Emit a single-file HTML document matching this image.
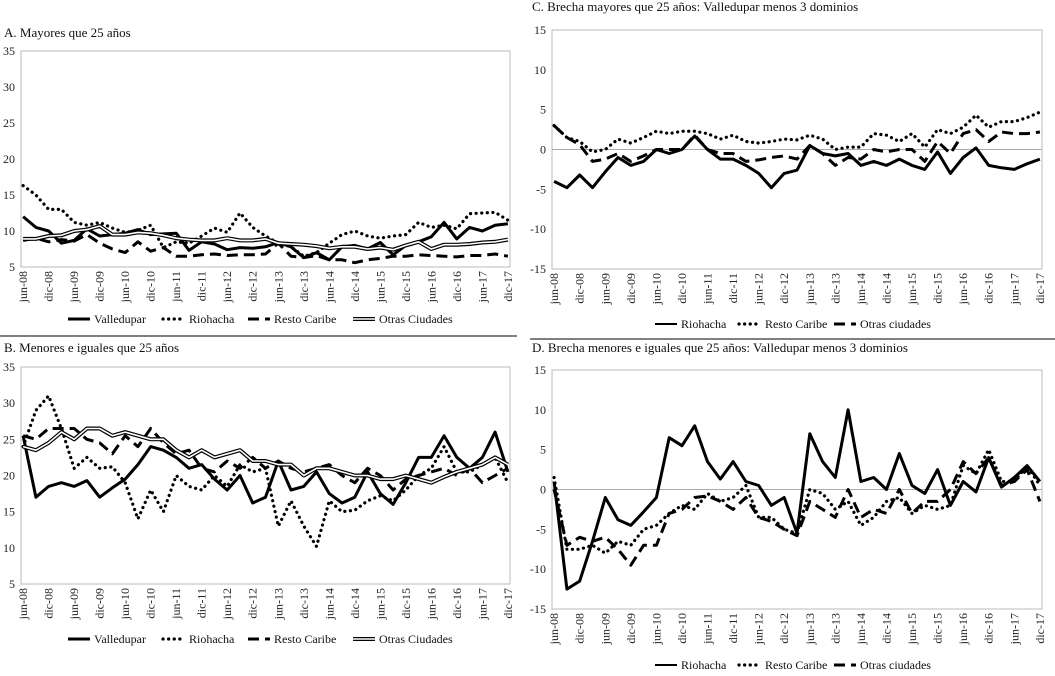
<!DOCTYPE html>
<html><head><meta charset="utf-8">
<style>
html,body{margin:0;padding:0;background:#fff;}
svg{display:block;font-family:"Liberation Serif",serif;}
</style></head>
<body>
<svg id="chart" width="1055" height="676" viewBox="0 0 1055 676" xmlns="http://www.w3.org/2000/svg"></svg>
<script>
const xLabels=["jun-08","dic-08","jun-09","dic-09","jun-10","dic-10","jun-11","dic-11","jun-12","dic-12","jun-13","dic-13","jun-14","dic-14","jun-15","dic-15","jun-16","dic-16","jun-17","dic-17"];
const ticksAB=[5,10,15,20,25,30,35];
const ticksCD=[-15,-10,-5,0,5,10,15];
// quarterly readings, jun-08 .. dic-17 (39 points)
const aValledupar=[12,10.5,10,8.3,8.7,10.3,9.3,9.5,9.7,10.2,9.5,9.6,9.7,7.3,8.5,8.2,7.4,7.7,7.6,7.8,8.4,7.8,6.3,7,6,7.8,8,7.5,8.4,6.7,8,8.5,9.2,11.2,8.9,10.5,10,10.8,11];
const aRiohacha=[16.3,15,13,13,11.2,10.8,11.2,10.4,9.8,10.1,10.8,7.7,8.5,8.3,9.3,10.4,9.8,12.5,10.5,9.3,8.3,7.8,6.5,7,8.3,9.5,10,9.3,9,9.3,9.5,11.2,10.5,10.8,10.3,12.4,12.5,12.6,11.5];
const aResto=[8.7,9,8.5,8.8,8.6,9.5,8.3,7.5,7,8.5,7.2,7.7,6.5,6.5,6.7,6.8,6.6,6.7,6.7,6.8,8.3,6.5,6.3,6.6,6,6,5.6,6,6.2,6.5,6.5,6.7,6.6,6.5,6.4,6.6,6.6,6.8,6.5];
const aOtras=[8.9,8.9,9.3,9.4,10,10.2,10.7,9.5,9.5,9.8,9.7,9.4,9,8.8,8.7,8.7,9,8.7,8.7,8.9,8.3,8.2,8.1,7.9,7.6,7.8,7.8,7.5,7.7,7.4,8,8.5,7.5,8.1,8.1,8.2,8.4,8.5,8.8];
const bValledupar=[25.5,17,18.5,19,18.5,19.3,17,18.3,19.5,21.5,24,23.5,22.5,21,21.5,19.5,18,20,16.2,17,22,18,18.5,20.5,17.5,16.2,17,20.5,17.5,16,19,22.5,22.5,25.5,22.5,21,22.5,26,20.5];
const bRiohacha=[24,29,31,26.5,21,22.5,21,21.2,19,14,18,15,20,18.5,18,20,18.5,21.5,20.5,21,13,16.5,13,10.2,16.5,15,15.2,16.5,17.2,16.5,18,20,21,24,20.5,20.5,21.5,22.5,19];
const bResto=[25.5,25,26.5,26.5,26.5,25,24.5,23,25.5,24,26.5,24.5,23,23.5,21,20.5,22,21,22.5,21,22,21,20.5,21,21.5,20,19,21,20,18,19.5,20,20.5,21,20,21,19,20,21];
const bOtras=[24,23.5,24.5,26,25,26.5,26.5,25.5,26,25.5,25,25,23.5,22.5,23.5,22.5,23,23.5,22,22,21.5,21.5,20,21,21,20.5,20,20,19.5,19.5,20,19.5,19,19.8,20.5,21,21.5,22.5,21.5];
const cRiohacha=[-4,-4.8,-3.2,-4.8,-2.8,-1,-2,-1.5,0,-0.5,0,1.7,0,-1.2,-1.2,-2,-3,-4.8,-3,-2.6,0.5,-0.5,-0.8,-0.5,-2,-1.5,-2,-1.2,-2,-2.5,-0.3,-3,-1,0.2,-2,-2.3,-2.5,-1.8,-1.2];
const cResto=[3,1.5,1,-0.3,0,1.3,0.8,1.5,2.3,2,2.3,2.3,2,1.3,1.8,1,0.8,1,1.3,1.2,1.8,1.3,0,0.3,0.3,2,1.8,1,2,0.3,2.5,2,2.8,4.3,2.8,3.5,3.5,4,4.7];
const cOtras=[3,1.5,0.6,-1.5,-1.2,-0.5,-1.5,-0.8,0,0,0,1.8,0,-0.5,-0.5,-1.5,-1.3,-1,-0.8,-1.2,0.5,-0.5,-2,-1,-1.2,0,-0.3,0,0,-1.5,1,-0.5,2,2.5,1,2.2,2,2,2.2];
const dRiohacha=[1,-12.5,-11.5,-6.5,-1,-3.8,-4.5,-2.8,-1,6.5,5.5,8,3.5,1.3,3.5,1,0.5,-2,-1,-5.5,7,3.5,1.5,10,1,1.5,0,4.5,0.5,-0.5,2.5,-2,1,-0.3,4,0.3,1.5,3,1];
const dResto=[1.5,-7.5,-7.5,-7,-8,-6.5,-7,-5,-4.5,-3,-2,-2.5,-0.5,-1.5,-1,0.5,-3.5,-3.5,-5,-5.5,0,-0.5,-2.5,-1.5,-4.5,-3.5,-1.5,-1,-3,-2,-2.5,-2,3,2,5,1,1,3,0.5];
const dOtras=[0,-7,-6,-6.5,-6,-7.5,-9.5,-7,-7,-3,-2.5,-1,-0.8,-1.5,-2.5,-1,-3.5,-4,-5,-5.8,-1.5,-2.5,-3.5,0,-3.5,-2.5,-3,0,-3,-1.5,-1.5,0,3.5,2,4,0.5,1,2.5,-1.5];

const NS="http://www.w3.org/2000/svg";
const svg=document.getElementById('chart');
function mk(tag,attrs,parent){const e=document.createElementNS(NS,tag);for(const k in attrs)e.setAttribute(k,attrs[k]);(parent||svg).appendChild(e);return e;}

const STY={
 solid:[{stroke:"#000","stroke-width":3}],
 dot:[{stroke:"#000","stroke-width":3.2,"stroke-dasharray":"0.1 5.5","stroke-linecap":"round"}],
 dash:[{stroke:"#000","stroke-width":3,"stroke-dasharray":"11 6"}],
 dbl:[{stroke:"#000","stroke-width":4},{stroke:"#fff","stroke-width":1.6}],
 thin:[{stroke:"#000","stroke-width":2}]
};

function panel(p){
 const g=mk('g',{});
 
 
 const t=mk('text',{x:p.tx,y:p.ty,"font-size":13,fill:"#111"},g);t.textContent=p.title;
 
 const L=p.x0,R=p.x1,T=p.y0,B=p.y1,n=39,months=115;
 const xs=i=>L+(i*3+0.5)*(R-L)/months;
 const ys=v=>B-(v-p.min)/(p.max-p.min)*(B-T);
 const fr=mk('rect',{x:L,y:T,width:R-L,height:B-T,fill:"none",stroke:"#bbb","stroke-width":1},g);
 
 p.ticks.forEach(v=>{const tt=mk('text',{x:p.lx,y:ys(v)+4,"font-size":12,"text-anchor":"end",fill:"#222"},g);tt.textContent=v;
  });
 if(p.zero){const z=mk('line',{x1:L,x2:R,y1:ys(0),y2:ys(0),stroke:"#aaa","stroke-width":1},g);
  }
 xLabels.forEach((s,k)=>{const x=L+(k*6+0.5)*(R-L)/months;
  const tt=mk('text',{x:0,y:0,"font-size":12,"text-anchor":"end",fill:"#222",transform:`translate(${x+4},${B+4}) rotate(-90)`},g);tt.textContent=s;
  });
 p.series.forEach(s=>{
  const d=s.data.map((v,i)=>(i?'L':'M')+xs(i).toFixed(1)+','+ys(v).toFixed(1)).join(' ');
  STY[s.sty].forEach(st=>{const pa=mk('path',Object.assign({d:d,fill:"none","stroke-linejoin":"round"},st),g);
   });
 });
 let lx=p.legX;
 p.series.forEach(s=>{
  const lg=mk('g',{},g);
  
  const sty=s.sty==='solid'&&p.zero?'thin':s.sty;
  STY[sty].forEach(st=>mk('line',Object.assign({x1:lx,x2:lx+22,y1:p.legY-4,y2:p.legY-4},st),lg));
  const tt=mk('text',{x:lx+26,y:p.legY,"font-size":12,fill:"#111"},lg);tt.textContent=s.label;
  lx+=s.w;
 });
 const sep=mk('line',{x1:p.sx0,x2:p.sx1,y1:p.sy,y2:p.sy,stroke:"#000","stroke-width":1},g);
 
}
const legAB=(a,b,c,d)=>[{key:'valledupar',label:'Valledupar',sty:'solid',data:a,w:95},{key:'riohacha',label:'Riohacha',sty:'dot',data:b,w:85},{key:'resto-caribe',label:'Resto Caribe',sty:'dash',data:c,w:105},{key:'otras-ciudades',label:'Otras Ciudades',sty:'dbl',data:d,w:100}];
const legCD=(a,b,c)=>[{key:'riohacha',label:'Riohacha',sty:'solid',data:a,w:84},{key:'resto-caribe',label:'Resto Caribe',sty:'dot',data:b,w:95},{key:'otras-ciudades',label:'Otras ciudades',sty:'dash',data:c,w:100}];
panel({name:'panel-a',title:'A. Mayores que 25 años',tx:4,ty:37,x0:21,x1:510,y0:51,y1:267,min:5,max:35,ticks:ticksAB,lx:15,series:legAB(aValledupar,aRiohacha,aResto,aOtras),legX:68,legY:323,sx0:0,sx1:517,sy:336});
panel({name:'panel-b',title:'B. Menores e iguales que 25 años',tx:4,ty:352,x0:21,x1:510,y0:367,y1:584,min:5,max:35,ticks:ticksAB,lx:15,series:legAB(bValledupar,bRiohacha,bResto,bOtras),legX:68,legY:643,sx0:0,sx1:0,sy:676});
panel({name:'panel-c',title:'C. Brecha mayores que 25 años: Valledupar menos 3 dominios',tx:532,ty:11,x0:552,x1:1042,y0:30,y1:269,min:-15,max:15,ticks:ticksCD,lx:546,zero:true,series:legCD(cRiohacha,cResto,cOtras),legX:655,legY:328,sx0:530,sx1:1055,sy:339});
panel({name:'panel-d',title:'D. Brecha menores e iguales que 25 años: Valledupar menos 3 dominios',tx:532,ty:352,x0:552,x1:1042,y0:370,y1:609,min:-15,max:15,ticks:ticksCD,lx:546,zero:true,series:legCD(dRiohacha,dResto,dOtras),legX:655,legY:669,sx0:0,sx1:0,sy:676});
</script>
</body></html>
